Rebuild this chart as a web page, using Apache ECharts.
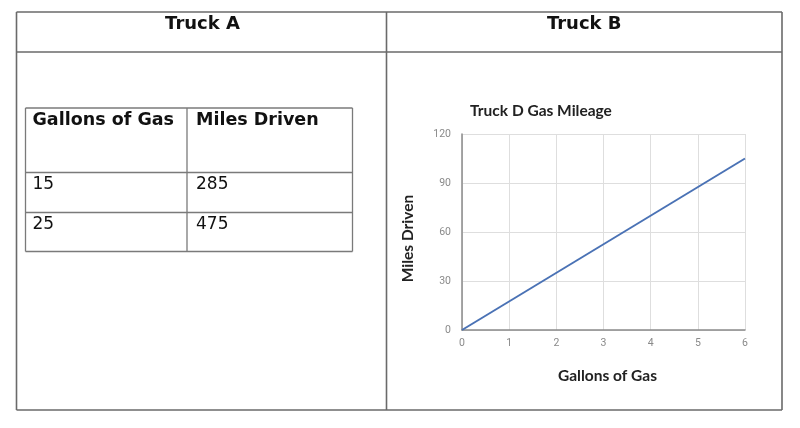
<!DOCTYPE html>
<html>
<head>
<meta charset="utf-8">
<script src="https://cdn.jsdelivr.net/npm/echarts@6/dist/echarts.min.js"></script>
<style>
html,body{margin:0;padding:0;background:#fff;}
#c{width:800px;height:428px;}
</style>
</head>
<body>
<div id="c"></div>
<script>
// ---- data ----
var panelTitles = ['Truck A', 'Truck B'];
var tableHeaders = ['Gallons of Gas', 'Miles Driven'];
var tableGallons = [15, 25];
var tableMiles = [285, 475];
var chartTitle = 'Truck D Gas Mileage';
var xAxisName = 'Gallons of Gas';
var yAxisName = 'Miles Driven';
var lineGallons = [0, 6];
var lineMiles = [0, 105];
var xTicks = [0, 1, 2, 3, 4, 5, 6];
var yTicks = [0, 30, 60, 90, 120];

// ---- layout ----
var OL = 16.5, OR = 782, OT = 12, OB = 410, HB = 52, MID = 386.5;
var TL = 25.5, TR = 352.5, TC = 187, TT = 108, TR1 = 172.5, TR2 = 212.5, TB = 251.5;

var g = [];
function line(x1, y1, x2, y2, c, w) {
  g.push({type: 'line', shape: {x1: x1, y1: y1, x2: x2, y2: y2}, style: {stroke: c, lineWidth: w}, silent: true});
}
function txt(x, y, s, opt) {
  var st = {text: String(s), x: 0, y: 0, fill: opt.fill || '#111', font: opt.font, align: opt.align || 'left', verticalAlign: opt.va || 'top'};
  g.push({type: 'text', x: x, y: y, rotation: opt.rot || 0, style: st, silent: true});
}
// outer table
var oc = '#6a6a6a';
line(OL, OT, OR, OT, oc, 1.6);
line(OL, OB, OR, OB, oc, 1.6);
line(OL, OT, OL, OB, oc, 1.6);
line(OR, OT, OR, OB, oc, 1.6);
line(OL, HB, OR, HB, oc, 1.6);
line(MID, OT, MID, OB, oc, 1.6);
txt((OL + MID) / 2 + 1, 15, panelTitles[0], {font: 'bold 18px "DejaVu Sans"', align: 'center'});
txt((MID + OR) / 2 + 0, 15, panelTitles[1], {font: 'bold 18px "DejaVu Sans"', align: 'center'});

// truck A table
var tc = '#7a7a7a';
line(TL, TT, TR, TT, tc, 1.3);
line(TL, TB, TR, TB, tc, 1.3);
line(TL, TT, TL, TB, tc, 1.3);
line(TR, TT, TR, TB, tc, 1.3);
line(TC, TT, TC, TB, tc, 1.3);
line(TL, TR1, TR, TR1, tc, 1.3);
line(TL, TR2, TR, TR2, tc, 1.3);
txt(TL + 7, TT + 3, tableHeaders[0], {font: 'bold 17.5px "DejaVu Sans"'});
txt(TC + 9, TT + 3, tableHeaders[1], {font: 'bold 17.5px "DejaVu Sans"'});
var rowsTop = [TR1, TR2];
for (var i = 0; i < tableGallons.length; i++) {
  txt(TL + 7, rowsTop[i] + 4, tableGallons[i], {font: '17px "DejaVu Sans"'});
  txt(TC + 9, rowsTop[i] + 4, tableMiles[i], {font: '17px "DejaVu Sans"'});
}
// axis names
txt(408, 238.5, yAxisName, {font: 'bold 15.5px Lato', align: 'center', va: 'middle', rot: Math.PI / 2, fill: '#222'});
txt(607.5, 376, xAxisName, {font: 'bold 15.5px Lato', align: 'center', va: 'middle', fill: '#222'});

var chart = echarts.init(document.getElementById('c'), null, {renderer: 'canvas'});
chart.setOption({
  animation: false,
  backgroundColor: '#fff',
  title: {
    text: chartTitle, left: 536, top: 98, textAlign: 'center',
    textStyle: {fontFamily: 'Lato', fontWeight: 'bold', fontSize: 15.5, color: '#222'}
  },
  grid: {left: 462, right: 55, top: 134, bottom: 98, containLabel: false},
  xAxis: {
    type: 'value', min: 0, max: 6, interval: 1,
    axisLine: {show: true, onZero: false, lineStyle: {color: '#8a8a8a', width: 1.5}},
    axisTick: {show: false},
    axisLabel: {color: '#8a8a8a', fontSize: 10.5, fontFamily: '"Liberation Sans Narrow", "Roboto"', margin: 8,
      formatter: function (v) { return xTicks.indexOf(v) >= 0 ? String(v) : ''; }},
    splitLine: {show: true, lineStyle: {color: '#dedede', width: 1}}
  },
  yAxis: {
    type: 'value', min: 0, max: 120, interval: 30,
    axisLine: {show: true, onZero: false, lineStyle: {color: '#8a8a8a', width: 1.5}},
    axisTick: {show: false},
    axisLabel: {color: '#8a8a8a', fontSize: 10.5, fontFamily: '"Liberation Sans Narrow", "Roboto"', margin: 11,
      formatter: function (v) { return yTicks.indexOf(v) >= 0 ? String(v) : ''; }},
    splitLine: {show: true, lineStyle: {color: '#dedede', width: 1}}
  },
  series: [{
    type: 'line',
    data: lineGallons.map(function (x, i) { return [x, lineMiles[i]]; }),
    showSymbol: false,
    lineStyle: {color: '#4a72b5', width: 2},
    z: 3
  }],
  graphic: g
});
</script>
</body>
</html>
